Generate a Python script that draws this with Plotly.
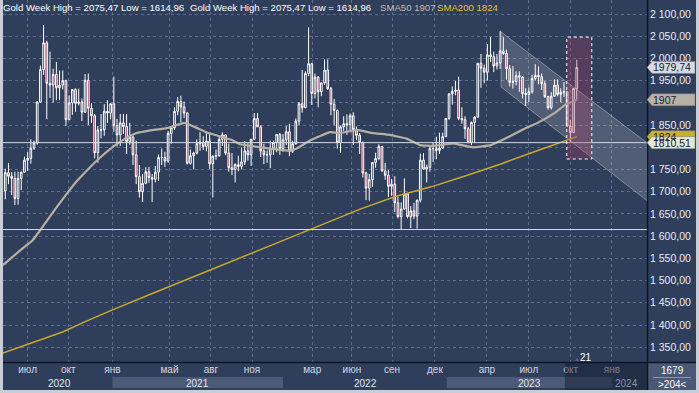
import plotly.graph_objects as go
import pandas as pd

# ---------------- data (weekly gold candles) ----------------
first_week = "2020-05-11"
n_weeks = 180

open_ = [
    # 2020
    1702,1743,1735,1730,1685,1730,1744,1771,1775,1798,1810,1902,1975,2035,1944,1940,1964,1934,1940,1950,
    1862,1900,1930,1899,1902,1879,1951,1888,1871,1788,1839,1839,1881,1877,
    # 2021
    1898,1849,1828,1855,1847,1813,1823,1783,1734,1700,1719,1745,1732,1728,1744,1777,1777,1769,1831,1844,
    1881,1903,1891,1877,1764,1781,1787,1808,1812,1802,1814,1763,1780,1781,1818,1828,1787,1754,1750,1761,
    1757,1767,1792,1783,1818,1865,1846,1792,1783,1783,1798,1811,
    # 2022
    1829,1797,1817,1835,1791,1808,1859,1898,1889,1966,1988,1921,1958,1925,1945,1974,1932,1897,1883,1811,
    1846,1853,1851,1871,1840,1827,1811,1742,1708,1727,1766,1775,1802,1747,1737,1712,1717,1675,1644,1661,
    1695,1644,1657,1645,1681,1771,1751,1755,1797,1797,1793,1798,
    # 2023
    1824,1865,1920,1926,1929,1865,1862,1842,1811,1856,1868,1989,1978,1969,2008,2004,1983,1990,2017,2011,
    1977,1946,1948,1961,1958,1921,1919,1925,1955,1962,1959,1943,1914,1889,1915,1940,1919,1924,1925,1848,
    1833,1932,
]
high = [
    1752,1765,1744,1745,1745,1745,1779,1789,1818,1815,1904,1984,2075.47,2040,2015,1977,1992,1973,1973,1952,
    1917,1930,1933,1932,1910,1965,1966,1900,1875,1848,1875,1897,1906,1900,
    1959,1864,1875,1875,1875,1855,1826,1815,1760,1740,1755,1756,1740,1758,1784,1797,1790,1837,1846,1890,
    1913,1916,1903,1879,1795,1790,1818,1834,1825,1832,1832,1782,1795,1823,1834,1830,1808,1787,1764,1781,
    1800,1814,1810,1818,1877,1877,1850,1808,1793,1815,1815,1830,
    1832,1830,1848,1853,1815,1865,1902,1974,1971,2070,1990,1966,1960,1945,1998,1998,1936,1909,1885,1849,
    1870,1874,1876,1879,1847,1832,1813,1745,1740,1767,1788,1807,1802,1765,1749,1729,1735,1688,1676,1730,
    1697,1668,1675,1682,1786,1787,1761,1804,1810,1824,1833,1833,
    1865,1922,1937,1949,1959,1890,1870,1846,1858,1870,1990,2010,1986,2032,2048,2015,2010,2062,2048,2020,
    1985,1983,1971,1971,1960,1933,1935,1963,1987,1982,1966,1949,1916,1924,1953,1953,1933,1947,1926,1862,
    1932,1997,
]
low = [
    1683,1717,1693,1670,1671,1704,1742,1747,1763,1794,1806,1900,1963,1863,1911,1901,1906,1906,1930,1848,
    1862,1873,1880,1894,1859,1878,1850,1855,1775,1765,1820,1826,1855,1863,
    1835,1802,1803,1830,1785,1806,1760,1717,1687,1677,1717,1720,1677,1721,1724,1760,1756,1765,1808,1839,
    1872,1856,1866,1761,1761,1750,1784,1792,1794,1791,1752,1687,1772,1779,1803,1782,1745,1737,1721,1746,
    1750,1760,1770,1758,1816,1846,1778,1762,1765,1753,1783,1789,
    1783,1790,1805,1780,1787,1806,1850,1878,1889,1960,1895,1910,1890,1915,1940,1929,1872,1850,1797,1787,
    1837,1828,1836,1805,1816,1785,1732,1681,1680,1711,1754,1771,1745,1727,1688,1691,1654,1640,1614.96,1660,
    1640,1618,1638,1617,1676,1749,1721,1745,1767,1773,1785,1797,
    1824,1862,1896,1917,1861,1853,1819,1809,1805,1810,1867,1934,1944,1950,1992,1969,1975,1976,2008,1952,
    1937,1932,1939,1925,1910,1893,1902,1921,1950,1942,1929,1911,1885,1885,1914,1915,1901,1913,1846,1810.51,
    1833,1908,
]
close = [
    1743,1735,1730,1685,1730,1744,1771,1775,1798,1810,1902,1975,2035,1944,1940,1964,1934,1940,1950,1862,
    1900,1930,1899,1902,1879,1951,1888,1871,1788,1839,1839,1881,1877,1898,
    1849,1828,1855,1847,1813,1823,1783,1734,1700,1719,1745,1732,1728,1744,1777,1777,1769,1831,1844,1881,
    1903,1891,1877,1764,1781,1787,1808,1812,1802,1814,1763,1780,1781,1818,1828,1787,1754,1750,1761,1757,
    1767,1792,1783,1818,1865,1846,1792,1783,1783,1798,1811,1829,
    1797,1817,1835,1791,1808,1859,1898,1889,1966,1988,1921,1958,1925,1945,1974,1932,1897,1883,1811,1846,
    1853,1851,1871,1840,1827,1811,1742,1708,1727,1766,1775,1802,1747,1737,1712,1717,1675,1644,1661,1695,
    1644,1657,1645,1681,1771,1751,1755,1797,1797,1793,1798,1824,
    1865,1920,1926,1929,1865,1862,1842,1811,1856,1868,1989,1978,1969,2008,2004,1983,1990,2017,2011,1977,
    1946,1948,1961,1958,1921,1919,1925,1955,1962,1959,1943,1914,1889,1915,1940,1919,1924,1925,1848,1833,
    1932,1979.74,
]

# moving averages
sma50_dates = ["2020-05-06","2020-06-16","2020-07-10","2020-07-27","2020-08-25","2020-09-24","2020-10-15",
               "2020-11-07","2020-12-05","2021-01-02","2021-01-28","2021-02-23","2021-03-25","2021-04-30",
               "2021-06-08","2021-07-26","2021-09-21","2021-10-08","2021-11-21","2021-12-20","2022-01-26",
               "2022-02-10","2022-03-11","2022-04-23","2022-05-15","2022-06-21","2022-07-26","2022-09-01",
               "2022-10-09","2022-11-06","2022-12-05","2023-01-18","2023-03-02","2023-04-11","2023-05-19",
               "2023-06-20","2023-07-22","2023-08-28","2023-09-20","2023-10-16"]
sma50_vals = [1535,1571,1591,1614,1656,1697,1724,1749,1777,1801,1819,1832,1838,1843,1855,1834,1816,1807,
              1800,1796,1792,1798,1816,1834,1832,1839,1832,1828,1819,1805,1803,1809,1800,1805,1823,1840,
              1855,1877,1895,1907]
sma200_dates = ["2020-05-06","2020-07-01","2020-09-15","2020-11-01","2021-01-01","2021-04-01","2021-07-01",
                "2021-10-01","2022-01-01","2022-04-01","2022-07-01","2022-09-15","2022-12-01","2023-02-15",
                "2023-05-01","2023-07-15","2023-10-16"]
sma200_vals = [1337,1358,1385,1407,1434,1472,1510,1548,1587,1625,1662,1690,1711,1736,1762,1790,1824]

# trend channel and highlighted zone
channel_dates = ["2023-05-03","2024-03-18","2024-03-18","2023-05-03","2023-05-03"]
channel_vals = [2059.5,1810,1680,1935.7,2059.5]
zone_dates = ["2023-09-24","2023-11-18"]
zone_vals = [1773.6,2048]

level_lines = [1810.51,1614.96]

# axis ticks
month_ticks = ["2020-06-29","2020-09-26","2021-01-01","2021-05-06","2021-08-05","2021-11-03","2022-03-15",
               "2022-06-10","2022-09-06","2022-12-09","2023-04-02","2023-07-03","2023-10-03","2024-01-01"]
month_text = ["июл","окт","янв","май","авг","ноя","мар","июн","сен","дек","апр","июл","окт","янв"]
year_pos = ["2020-09-06","2021-07-06","2022-07-09","2023-07-05","2024-02-03"]
year_text = ["2020","2021","2022","2023","2024"]
price_ticks = [1350,1400,1450,1500,1550,1600,1650,1700,1750,1800,1850,1900,1950,2000,2050,2100]
price_text = ["1 350,00","1 400,00","1 450,00","1 500,00","1 550,00","1 600,00","1 650,00","1 700,00",
              "1 750,00","","1 850,00","","1 950,00","2 000,00","2 050,00","2 100,00"]

# ---------------- figure ----------------
BG = "#2f3e5b"
FONT = "Liberation Sans, Arial, sans-serif"
W, H = 699, 393
ML, MR, MT, MB = 3, 52, 0, 31
PW, PH = W - ML - MR, H - MT - MB


def px(xp):
    return (xp - ML) / PW


def py(yp):
    return (PH - yp) / PH


dates = pd.date_range(first_week, periods=n_weeks, freq="7D")

fig = go.Figure()
fig.add_trace(go.Scatter(x=channel_dates, y=channel_vals, mode="lines", fill="toself",
                         fillcolor="rgba(255,255,255,0.16)",
                         line=dict(color="rgba(255,255,255,0.35)", width=1), hoverinfo="skip"))
fig.add_trace(go.Candlestick(
    x=dates, open=open_, high=high, low=low, close=close,
    increasing=dict(line=dict(color="#ffffff", width=1), fillcolor=BG),
    decreasing=dict(line=dict(color="#ffffff", width=1), fillcolor="#b0284e"),
    whiskerwidth=0))
fig.add_trace(go.Scatter(x=sma200_dates, y=sma200_vals, mode="lines",
                         line=dict(color="#c9a92c", width=1.5), hoverinfo="skip"))
fig.add_trace(go.Scatter(x=sma50_dates, y=sma50_vals, mode="lines",
                         line=dict(color="#b7b0a3", width=2.2, shape="spline", smoothing=0.3),
                         hoverinfo="skip"))

shapes = []
# level lines
for lv in level_lines:
    shapes.append(dict(type="line", xref="paper", yref="y", x0=0, x1=1, y0=lv, y1=lv,
                       line=dict(color="#d6dadf", width=1), layer="above"))
# highlighted zone
shapes.append(dict(type="rect", xref="x", yref="y", x0=zone_dates[0], x1=zone_dates[1],
                   y0=zone_vals[0], y1=zone_vals[1], fillcolor="rgba(170,60,100,0.32)",
                   line=dict(color="#ffffff", width=1, dash="dot"), layer="above"))
# year bands on the bottom axis
for a, b in [("2021-01-01", "2022-01-10"), ("2023-01-04", "2024-01-01")]:
    shapes.append(dict(type="rect", xref="x", yref="paper", x0=a, x1=b, y0=py(377), y1=py(388),
                       fillcolor="#4b5a77", line=dict(width=0), layer="below"))
# dark overlay for future part of time axis
shapes.append(dict(type="rect", xref="x", yref="paper", x0="2023-09-20", x1="2024-03-18",
                   y0=py(362.5), y1=py(390), fillcolor="rgba(22,30,48,0.5)", line=dict(width=0),
                   layer="above"))
# corner box
shapes.append(dict(type="rect", xref="paper", yref="paper", x0=px(648), x1=px(696), y0=py(363), y1=py(390),
                   fillcolor="#4a5875", line=dict(width=0), layer="above"))
shapes.append(dict(type="line", xref="paper", yref="paper", x0=px(653), x1=px(691), y0=py(377.5), y1=py(377.5),
                   line=dict(color="#8d98ac", width=1), layer="above"))
# separators
shapes.append(dict(type="line", xref="paper", yref="paper", x0=px(647.5), x1=px(647.5), y0=py(0), y1=py(390),
                   line=dict(color="#0e1420", width=1.5), layer="above"))
shapes.append(dict(type="line", xref="paper", yref="paper", x0=px(3), x1=px(696), y0=py(362.5), y1=py(362.5),
                   line=dict(color="#0e1420", width=1.5), layer="above"))
# light window frame
for x0, x1, y0, y1 in [(0, 3, 0, 393), (696, 699, 0, 393), (0, 699, 390, 393)]:
    shapes.append(dict(type="rect", xref="paper", yref="paper", x0=px(x0), x1=px(x1), y0=py(y0), y1=py(y1),
                       fillcolor="#c9ced6", line=dict(width=0), layer="above"))

# price tags on the right axis
hp = 6 * (2131.5 - 1316.8) / PH
tags = [(1979.74, "1979,74", "#d4dae4"), (1907, "1907", "#b8b1a5"),
        (1824, "1824", "#c9b22a"), (1810.51, "1810,51", "#e3e7d6")]
annotations = []
for v, t, col in tags:
    shapes.append(dict(type="path", xref="paper", yref="y",
                       path=f"M {px(647)},{v} L {px(652)},{v + hp} L {px(695)},{v + hp} "
                            f"L {px(695)},{v - hp} L {px(652)},{v - hp} Z",
                       fillcolor=col, line=dict(color="#6c7480", width=0.5), layer="above"))
    annotations.append(dict(xref="paper", yref="y", x=px(651), y=v, text=t, showarrow=False,
                            xanchor="left", yanchor="middle", font=dict(family=FONT, size=10.5, color="#1a2030")))

# header texts
hdr = "Gold Week High = 2075,47 Low = 1614,96"
for xp_, t, col in [(1, hdr, "#ffffff"), (188, hdr, "#ffffff"), (378, "SMA50 1907", "#c3bdb2"),
                    (435, "SMA200 1824", "#e3c33c")]:
    annotations.append(dict(xref="paper", yref="paper", x=px(xp_), y=py(7), text=t, showarrow=False,
                            xanchor="left", yanchor="middle", font=dict(family=FONT, size=9.6, color=col)))
# year labels
for d, t in zip(year_pos, year_text):
    annotations.append(dict(xref="x", yref="paper", x=d, y=py(383), text=t, showarrow=False,
                            xanchor="center", yanchor="middle",
                            font=dict(family=FONT, size=10, color="#8a93a6" if t == "2024" else "#e4e8ef")))
# corner box text and marker
for xp_, yp_, t, sz, col in [(672, 370.5, "1679", 10, "#ffffff"), (672, 384, ">204<", 10, "#ffffff"),
                             (586, 357, "21", 10, "#ffffff"), (577, 359, "▲", 6, "#5b667e")]:
    annotations.append(dict(xref="paper", yref="paper", x=px(xp_), y=py(yp_), text=t, showarrow=False,
                            xanchor="center", yanchor="middle", font=dict(family=FONT, size=sz, color=col)))

fig.update_layout(
    width=W, height=H, margin=dict(l=ML, r=MR, t=MT, b=MB),
    paper_bgcolor=BG, plot_bgcolor=BG, showlegend=False, boxgap=0.25,
    font=dict(family=FONT, size=10, color="#e6ebf3"),
    shapes=shapes, annotations=annotations,
    xaxis=dict(type="date", range=["2020-05-06", "2024-03-18"], rangeslider=dict(visible=False),
               tickvals=month_ticks, ticktext=month_text, tickfont=dict(family=FONT, size=10, color="#d2d8e3"),
               showgrid=True, gridcolor="#5d6d8d", griddash="3px,3px", gridwidth=1, zeroline=False,
               ticks="", showline=False, fixedrange=True),
    yaxis=dict(side="right", range=[1316.8, 2131.5], tickvals=price_ticks, ticktext=price_text,
               tickfont=dict(family=FONT, size=10.5, color="#e8edf5"), showgrid=True, gridcolor="#5d6d8d",
               griddash="3px,3px", gridwidth=1, zeroline=False, ticks="", showline=False,
               ticklabelstandoff=2, fixedrange=True),
)

fig.write_html("out.html", config={"displayModeBar": False},
               post_script="document.body.style.margin='0';document.body.style.padding='0';")
